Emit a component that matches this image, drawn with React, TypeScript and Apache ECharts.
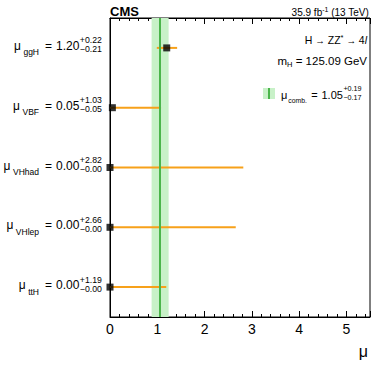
import React, { useEffect, useRef } from 'react';
import * as echarts from 'echarts';

const categories = ['ggH', 'VBF', 'VHhad', 'VHlep', 'ttH'];
const muValues = [1.2, 0.05, 0.0, 0.0, 0.0];
const errUp = [0.22, 1.03, 2.82, 2.66, 1.19];
const errDown = [0.21, 0.05, 0.0, 0.0, 0.0];
const combMu = 1.05;
const combUp = 0.19;
const combDown = 0.17;
const xTickLabels = [0, 1, 2, 3, 4, 5];
const xMin = 0;
const xMax = 5.5;

const FONT = '"Liberation Sans", Arial, Helvetica, sans-serif';
const ORANGE = '#f7a11a';
const BAND = '#c8f1c8';
const GREEN = '#4bb54b';

let measureCtx: CanvasRenderingContext2D | null = null;
function tw(text: string, size: number, weight = 'normal', style = 'normal'): number {
  if (!measureCtx) measureCtx = document.createElement('canvas').getContext('2d');
  if (!measureCtx) return text.length * size * 0.55;
  measureCtx.font = `${style} ${weight} ${size}px ${FONT}`;
  return measureCtx.measureText(text).width;
}

function txt(t: string, x: number, y: number, size: number, align = 'left', extra: any = {}) {
  return {
    type: 'text',
    x,
    y,
    z: 100,
    silent: true,
    style: {
      text: t,
      fill: '#000',
      fontSize: size,
      fontFamily: FONT,
      fontWeight: extra.weight || 'normal',
      fontStyle: extra.italic ? 'italic' : 'normal',
      align,
      textAlign: align,
      verticalAlign: 'middle',
      textVerticalAlign: 'middle',
    },
  };
}

type Seg = { t: string; s: number; dy: number; dx?: number; weight?: string; italic?: boolean };
function place(segs: Seg[], x: number, y: number, align: 'left' | 'right') {
  const widths = segs.map((sg) => tw(sg.t, sg.s, sg.weight || 'normal', sg.italic ? 'italic' : 'normal'));
  const total = widths.reduce((a, b, i) => a + b + (segs[i].dx || 0), 0);
  let cx = align === 'left' ? x : x - total;
  return segs.map((sg, i) => {
    cx += sg.dx || 0;
    const el = txt(sg.t, cx, y + sg.dy, sg.s, 'left', { weight: sg.weight, italic: sg.italic });
    cx += widths[i];
    return el;
  });
}

function fmtUp(v: number) {
  return '+' + v.toFixed(2);
}
function fmtDown(v: number) {
  return '\u2212' + v.toFixed(2);
}

export default function App() {
  const ref = useRef<HTMLDivElement>(null);
  useEffect(() => {
    document.body.style.margin = '0';
    if (!ref.current) return;
    const chart = echarts.init(ref.current, null, { renderer: 'svg' });

    const baseX = {
      type: 'value',
      min: xMin,
      max: xMax,
      splitLine: { show: false },
      minorSplitLine: { show: false },
    };
    const option: any = {
      animation: false,
      grid: {
        left: 110,
        right: 12,
        top: 18,
        bottom: 48,
        show: true,
        borderColor: '#000',
        borderWidth: 1,
        backgroundColor: 'transparent',
      },
      xAxis: [
        {
          ...baseX,
          position: 'bottom',
          interval: 1,
          axisLine: { show: true, onZero: false, lineStyle: { color: '#000', width: 1 } },
          axisTick: { show: true, inside: true, length: 6, lineStyle: { color: '#000', width: 1 } },
          axisLabel: {
            color: '#000',
            fontFamily: FONT,
            fontSize: 14,
            margin: 5,
            formatter: (v: number) => (xTickLabels.includes(v) ? String(v) : ''),
          },
        },
        {
          ...baseX,
          position: 'top',
          interval: 1,
          axisLine: { show: true, onZero: false, lineStyle: { color: '#000', width: 1 } },
          axisTick: { show: true, inside: true, length: 6, lineStyle: { color: '#000', width: 1 } },
          axisLabel: { show: false },
        },
        {
          ...baseX,
          position: 'bottom',
          interval: 0.2,
          axisLine: { show: false },
          axisTick: { show: true, inside: true, length: 3, lineStyle: { color: '#000', width: 1 } },
          axisLabel: { show: false },
        },
        {
          ...baseX,
          position: 'top',
          interval: 0.2,
          axisLine: { show: false },
          axisTick: { show: true, inside: true, length: 3, lineStyle: { color: '#000', width: 1 } },
          axisLabel: { show: false },
        },
      ],
      yAxis: {
        type: 'category',
        data: categories,
        inverse: true,
        axisLine: { show: true, lineStyle: { color: '#000', width: 1 } },
        axisTick: { show: false },
        axisLabel: { show: false },
        splitLine: { show: false },
      },
      series: [
        {
          type: 'line',
          data: [],
          z: 1,
          markArea: {
            silent: true,
            itemStyle: { color: BAND },
            label: { show: false },
            data: [[{ xAxis: combMu - combDown }, { xAxis: combMu + combUp }]],
          },
          markLine: {
            silent: true,
            symbol: 'none',
            label: { show: false },
            lineStyle: { color: GREEN, width: 2, type: 'solid' },
            data: [{ xAxis: combMu }],
          },
        },
        {
          type: 'custom',
          z: 3,
          data: categories.map((c, i) => [muValues[i] - errDown[i], muValues[i] + errUp[i], i]),
          encode: { x: [0, 1], y: 2 },
          renderItem: (params: any, api: any) => {
            const p1 = api.coord([api.value(0), api.value(2)]);
            const p2 = api.coord([api.value(1), api.value(2)]);
            return {
              type: 'line',
              shape: { x1: p1[0], y1: p1[1], x2: p2[0], y2: p2[1] },
              style: { stroke: ORANGE, lineWidth: 2 },
            };
          },
        },
        {
          type: 'scatter',
          z: 4,
          symbol: 'rect',
          symbolSize: 7,
          itemStyle: { color: '#000' },
          data: muValues.map((v, i) => [v, categories[i]]),
        },
      ],
    };
    chart.setOption(option);

    const els: any[] = [];
    categories.forEach((c, i) => {
      const y = chart.convertToPixel({ yAxisIndex: 0 }, c) as number;
      els.push(...place([{ t: '\u03bc', s: 12, dy: -2 }, { t: c, s: 8.5, dy: 4.5, dx: 2.5 }], 39, y, 'right'));
      els.push(txt('=', 48.5, y - 2, 12, 'center'));
      const val = muValues[i].toFixed(2);
      els.push(txt(val, 56, y - 2, 12, 'left'));
      const sx = 56 + tw(val, 12) + 0.5;
      els.push(txt(fmtUp(errUp[i]), sx, y - 7.5, 8.7, 'left'));
      els.push(txt(fmtDown(errDown[i]), sx, y + 1.5, 8.7, 'left'));
    });

    // CMS label and luminosity
    els.push(txt('CMS', 110, 11, 13, 'left', { weight: 'bold' }));
    els.push(
      ...place(
        [
          { t: '35.9 fb', s: 10, dy: 0 },
          { t: '-1', s: 7, dy: -3 },
          { t: ' (13 TeV)', s: 10, dy: 0 },
        ],
        369,
        12,
        'right'
      )
    );
    // process labels
    els.push(
      ...place(
        [
          { t: 'H ', s: 10.5, dy: 0 },
          { t: '\u2192', s: 9.5, dy: 0 },
          { t: ' ZZ', s: 10.5, dy: 0 },
          { t: '*', s: 7.5, dy: -3 },
          { t: ' ', s: 10.5, dy: 0 },
          { t: '\u2192', s: 9.5, dy: 0 },
          { t: ' 4', s: 10.5, dy: 0 },
          { t: 'l', s: 10.5, dy: 0, italic: true },
        ],
        367,
        40,
        'right'
      )
    );
    els.push(
      ...place(
        [
          { t: 'm', s: 11.5, dy: 0 },
          { t: 'H', s: 7.5, dy: 3 },
          { t: ' = 125.09 GeV', s: 11.5, dy: 0 },
        ],
        367,
        61,
        'right'
      )
    );
    // legend
    els.push({
      type: 'rect',
      z: 100,
      silent: true,
      shape: { x: 263, y: 88, width: 12, height: 11 },
      style: { fill: BAND },
    });
    els.push({
      type: 'line',
      z: 101,
      silent: true,
      shape: { x1: 269, y1: 88, x2: 269, y2: 99 },
      style: { stroke: GREEN, lineWidth: 2 },
    });
    els.push(...place([{ t: '\u03bc', s: 11, dy: 0 }, { t: 'comb.', s: 6.8, dy: 5, dx: 1 }], 281, 95, 'left'));
    els.push(txt('=', 314.5, 95, 11, 'center'));
    const cv = combMu.toFixed(2);
    els.push(txt(cv, 321.5, 95, 11, 'left'));
    const csx = 321.5 + tw(cv, 11) + 0.5;
    els.push(txt(fmtUp(combUp), csx, 88.5, 7.2, 'left'));
    els.push(txt(fmtDown(combDown), csx, 97.5, 7.2, 'left'));

    // axis title
    els.push(txt('\u03bc', 368, 351, 16, 'right'));

    chart.setOption({ graphic: { elements: els } });

    return () => chart.dispose();
  }, []);
  return <div ref={ref} style={{ width: 382, height: 365 }} />;
}
